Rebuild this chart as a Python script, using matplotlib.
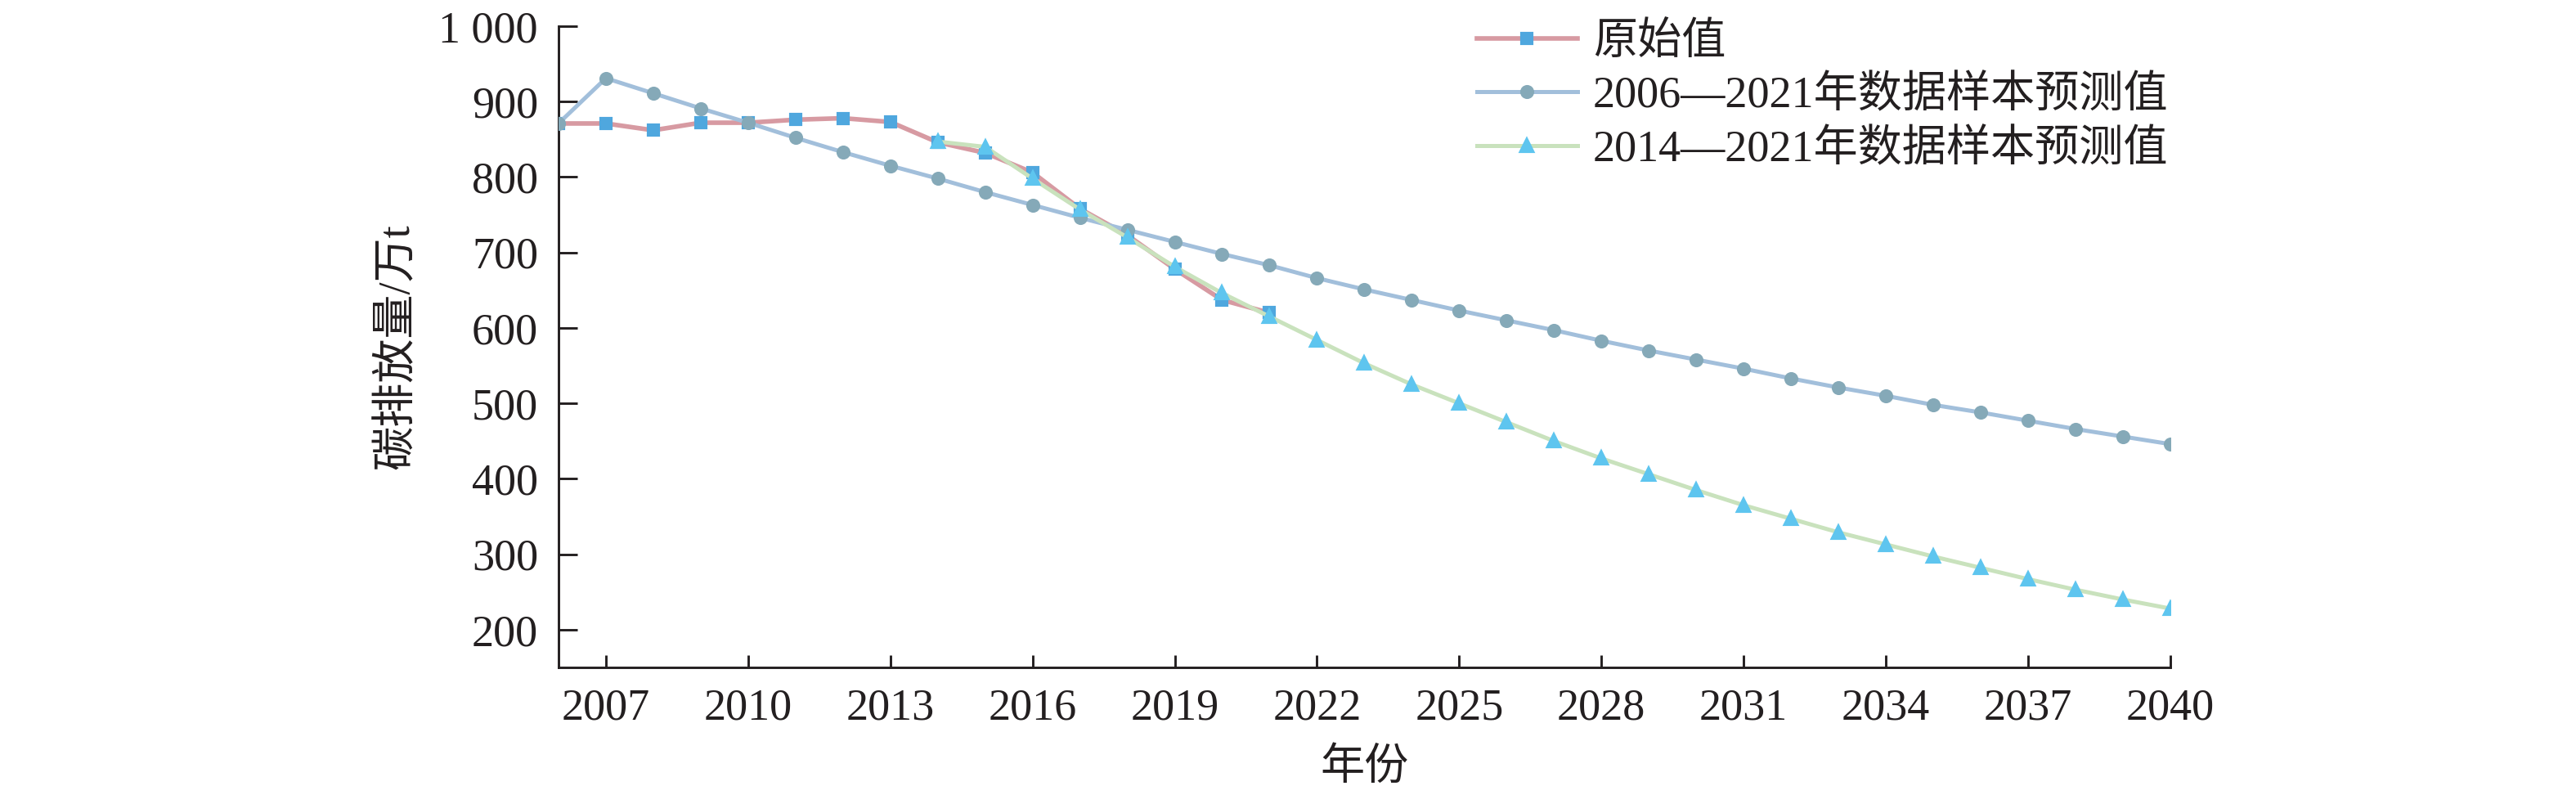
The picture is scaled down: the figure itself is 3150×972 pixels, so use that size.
"""
Carbon emission forecast -- original values vs. two grey-model predictions.
Saves out.png (3150 x 972).
"""

import matplotlib
matplotlib.use("Agg")
import matplotlib.pyplot as plt
import matplotlib.ticker as ticker

# ---------------------------------------------------------------------------
# Data (unit: 万t)
# ---------------------------------------------------------------------------
years_orig = list(range(2006, 2022))
orig_vals = [871, 871, 862, 872, 872, 876, 878, 873, 846, 832,
             806, 758, 723, 678, 637, 620]

years_pred_a = list(range(2006, 2041))
pred_a_vals = [871, 931, 911, 891, 872, 852, 833, 815, 798, 780,
               763, 746, 730, 714, 698, 683, 666, 651, 637, 623,
               610, 597, 583, 570, 558, 546, 533, 521, 510, 498,
               488, 477, 466, 456, 446]

years_pred_b = list(range(2014, 2041))
pred_b_vals = [847, 840, 798, 757, 720, 681, 646, 615, 584, 553,
               525, 500, 475, 450, 427, 406, 385, 365, 347, 329,
               313, 297, 282, 267, 253, 240, 228]

labels = ["原始值", "2006—2021年数据样本预测值", "2014—2021年数据样本预测值"]
x_ticks = list(range(2007, 2041, 3))
y_ticks = list(range(200, 1001, 100))
y_tick_labels = ["1 000" if v == 1000 else str(v) for v in y_ticks]

# ---------------------------------------------------------------------------
# Style
# ---------------------------------------------------------------------------
RED_LINE = "#d79aa2"
SQ_MARK = "#4fa7de"
BLUE_LINE = "#a2bfdb"
CIRC_MARK = "#85a9b8"
GREEN_LINE = "#c9e2bd"
TRI_MARK = "#5ec5ef"
INK = "#231f20"

plt.rcParams["font.family"] = ["Liberation Serif", "Noto Sans CJK SC"]
plt.rcParams["axes.unicode_minus"] = False

fig = plt.figure(figsize=(10.5, 3.24), dpi=300)
ax = fig.add_axes([0.2168, 0.1605, 0.6257, 0.8066])

ax.plot(years_orig, orig_vals, color=RED_LINE, lw=1.35, marker="s",
        ms=3.0, mfc=SQ_MARK, mec=SQ_MARK, label=labels[0], zorder=3)
ax.plot(years_pred_a, pred_a_vals, color=BLUE_LINE, lw=1.2, marker="o",
        ms=3.1, mfc=CIRC_MARK, mec=CIRC_MARK, label=labels[1], zorder=4)
ax.plot(years_pred_b, pred_b_vals, color=GREEN_LINE, lw=1.2, marker="^",
        ms=3.5, mfc=TRI_MARK, mec=TRI_MARK, label=labels[2], zorder=5)

ax.set_xlim(2006, 2040)
ax.set_ylim(150, 1000)
ax.xaxis.set_major_locator(ticker.FixedLocator(x_ticks))
ax.set_yticks(y_ticks)
ax.set_yticklabels(y_tick_labels)

for side in ("top", "right"):
    ax.spines[side].set_visible(False)
for side in ("left", "bottom"):
    ax.spines[side].set_linewidth(0.7)
    ax.spines[side].set_color(INK)

ax.tick_params(axis="x", direction="in", length=3.7, width=0.7,
               colors=INK, labelsize=13, pad=6)
ax.tick_params(axis="y", direction="in", length=5.4, width=0.7,
               colors=INK, labelsize=13, pad=6)

ax.set_xlabel("年份", fontsize=13, color=INK)
ax.set_ylabel("碳排放量/万t", fontsize=13, color=INK)
ax.xaxis.set_label_coords(0.5, -0.125)
ax.yaxis.set_label_coords(-0.087, 0.5)

fig.legend(loc="upper left", bbox_to_anchor=(0.5733, 0.972),
           frameon=False, fontsize=13, handlelength=2.27,
           handletextpad=0.35, labelspacing=0.28, borderpad=0,
           borderaxespad=0, labelcolor=INK)

fig.savefig("out.png", dpi=300, facecolor="white")
plt.close(fig)
